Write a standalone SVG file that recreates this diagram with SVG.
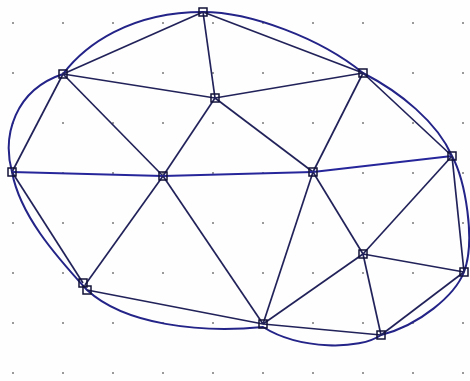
<svg xmlns="http://www.w3.org/2000/svg" width="470" height="381" viewBox="0 0 470 381">
<defs>
<pattern id="grid" x="12" y="22" width="50" height="50" patternUnits="userSpaceOnUse">
<rect x="0" y="0" width="2" height="2" fill="#9a9a9a"/>
</pattern>
<style>
.e{stroke:#22225a;stroke-width:1.7;fill:none}
.h{stroke:#26269a;stroke-width:1.8;fill:none}
.c{stroke:#232388;stroke-width:2;fill:none}
.n rect{fill:none;stroke:#121238;stroke-width:1.5}
</style>
</defs>
<rect width="470" height="381" fill="#fefefe"/>
<rect width="470" height="381" fill="url(#grid)"/>
<g id="connectors">
<path class="c" d="M203,12 C250,12 320,38 363,73 C400,92 437,122 452,156 C465,180 476,240 464,272 C455,295 420,325 381,335 C360,350 300,350 263,327 C200,333 125,325 87,290 C55,255 20,215 12,172 C2,135 15,90 63,74 C85,45 130,12 203,12 Z"/>
<line class="e" x1="203" y1="12" x2="63" y2="74"/>
<line class="e" x1="203" y1="12" x2="215" y2="98"/>
<line class="e" x1="203" y1="12" x2="363" y2="73"/>
<line class="e" x1="63" y1="74" x2="215" y2="98"/>
<line class="e" x1="63" y1="74" x2="12" y2="172"/>
<line class="e" x1="63" y1="74" x2="163" y2="176"/>
<line class="e" x1="215" y1="98" x2="363" y2="73"/>
<line class="e" x1="215" y1="98" x2="163" y2="176"/>
<line class="e" x1="215" y1="98" x2="313" y2="172"/>
<line class="e" x1="363" y1="73" x2="313" y2="172"/>
<line class="e" x1="363" y1="73" x2="452" y2="156"/>
<line class="h" x1="12" y1="172" x2="163" y2="176"/>
<line class="h" x1="163" y1="176" x2="313" y2="172"/>
<line class="h" x1="313" y1="172" x2="452" y2="156"/>
<line class="e" x1="12" y1="172" x2="83" y2="283"/>
<line class="e" x1="163" y1="176" x2="85" y2="285"/>
<line class="e" x1="163" y1="176" x2="263" y2="324"/>
<line class="e" x1="313" y1="172" x2="263" y2="324"/>
<line class="e" x1="313" y1="172" x2="363" y2="254"/>
<line class="e" x1="452" y1="156" x2="363" y2="254"/>
<line class="e" x1="452" y1="156" x2="464" y2="272"/>
<line class="e" x1="363" y1="254" x2="263" y2="324"/>
<line class="e" x1="363" y1="254" x2="464" y2="272"/>
<line class="e" x1="363" y1="254" x2="381" y2="335"/>
<line class="e" x1="263" y1="324" x2="381" y2="335"/>
<line class="e" x1="87" y1="290" x2="263" y2="324"/>
<line class="e" x1="464" y1="272" x2="381" y2="335"/>
</g>
<g id="nA" class="n"><rect x="199" y="8" width="8" height="8"/></g>
<g id="nB" class="n"><rect x="59" y="70" width="8" height="8"/></g>
<g id="nC" class="n"><rect x="211" y="94" width="8" height="8"/></g>
<g id="nD" class="n"><rect x="359" y="69" width="8" height="8"/></g>
<g id="nE" class="n"><rect x="8" y="168" width="8" height="8"/></g>
<g id="nF" class="n"><rect x="159" y="172" width="8" height="8"/></g>
<g id="nG" class="n"><rect x="309" y="168" width="8" height="8"/></g>
<g id="nH" class="n"><rect x="448" y="152" width="8" height="8"/></g>
<g id="nI1" class="n"><rect x="79" y="279" width="8" height="8"/></g>
<g id="nI2" class="n"><rect x="83" y="286" width="8" height="8"/></g>
<g id="nJ" class="n"><rect x="259" y="320" width="8" height="8"/></g>
<g id="nK" class="n"><rect x="359" y="250" width="8" height="8"/></g>
<g id="nL" class="n"><rect x="460" y="268" width="8" height="8"/></g>
<g id="nM" class="n"><rect x="377" y="331" width="8" height="8"/></g>
</svg>
